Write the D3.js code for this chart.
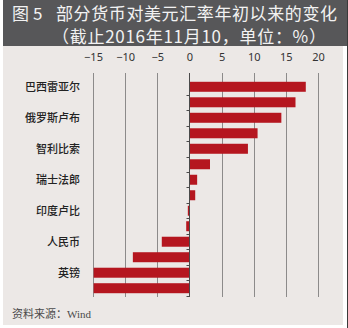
<!DOCTYPE html>
<html>
<head>
<meta charset="utf-8">
<script src="https://cdn.jsdelivr.net/npm/d3@7"></script>
<style>
  body { margin: 0; background: #fff; }
  svg { display: block; }
  .grid { stroke: #8c8a8a; stroke-width: 1; }
  .zero { stroke: #4a4a4a; stroke-width: 1; }
  .title { font-family: "Noto Sans CJK SC", sans-serif; font-size: 17px; fill: #f2f2f2; }
  .tick-label { font-family: "Noto Sans", "Liberation Sans", sans-serif; font-size: 11px; fill: #333; }
  .cat-label { font-family: "Noto Sans CJK SC", sans-serif; font-size: 11px; font-weight: 500; fill: #222; }
</style>
</head>
<body>
<svg id="chart"></svg>
<script>
// bar labels (only every other bar is named in the source)
var labels = ["巴西雷亚尔", "", "俄罗斯卢布", "", "智利比索", "", "瑞士法郎", "",
              "印度卢比", "", "人民币", "", "英镑", ""];
// change vs USD since start of year (%)
var values = [18.1, 16.5, 14.3, 10.6, 9.1, 3.2, 1.2, 0.9, -0.25, -0.5, -4.3, -8.8, -14.9, -14.9];
var tickValues = [-15, -10, -5, 0, 5, 10, 15, 20];
var titleParts = ["图", "5", "部分货币对美元汇率年初以来的变化"];
var subtitle = "（截止2016年11月10，单位：%）";
var source = "资料来源：Wind";

var width = 348, height = 328;

var svg = d3.select('#chart')
    .attr('width', width)
    .attr('height', height);

// page panel + header band
svg.append('rect')
    .attr('x', 3).attr('y', 0)
    .attr('width', 340).attr('height', 325)
    .attr('fill', '#ece8e6');

svg.append('rect')
    .attr('x', 3).attr('y', 0)
    .attr('width', 344).attr('height', 46)
    .attr('fill', '#575759');

svg.append('line')
    .attr('x1', 347.5).attr('y1', 0)
    .attr('x2', 347.5).attr('y2', height)
    .attr('stroke', '#3a3a3a');

// title, first line in three pieces to keep the wide gaps
var titleX = [12, 33, 56];
svg.append('g')
    .selectAll('text')
    .data(titleParts)
    .join('text')
    .attr('class', 'title')
    .attr('x', function (d, i) { return titleX[i]; })
    .attr('y', 20)
    .attr('textLength', function (d, i) { return i === 2 ? 281 : null; })
    .attr('lengthAdjust', 'spacing')
    .text(function (d) { return d; });

svg.append('text')
    .attr('class', 'title')
    .attr('x', 52).attr('y', 43)
    .attr('textLength', 274)
    .attr('lengthAdjust', 'spacing')
    .text(subtitle);

// scales
var x = d3.scaleLinear()
    .domain([-15, 20])
    .range([93, 318]);

var y = d3.scaleBand()
    .domain(d3.range(values.length))
    .range([79, 296])
    .paddingInner(0.355)
    .paddingOuter(0.18);

var gridTop = 73, gridBottom = 297;

// vertical grid lines
svg.append('g')
    .selectAll('line')
    .data(tickValues.filter(function (d) { return d !== 0; }))
    .join('line')
    .attr('class', 'grid')
    .attr('x1', function (d) { return Math.round(x(d)) + 0.5; })
    .attr('x2', function (d) { return Math.round(x(d)) + 0.5; })
    .attr('y1', gridTop)
    .attr('y2', gridBottom);

// top axis labels
var xAxis = d3.axisTop(x)
    .tickValues(tickValues)
    .tickSize(0)
    .tickPadding(0);

var gx = svg.append('g')
    .attr('transform', 'translate(0,' + 61 + ')')
    .call(xAxis);
gx.select('.domain').remove();
gx.selectAll('text')
    .attr('class', 'tick-label')
    .attr('dy', 0)
    .attr('font-family', null)
    .attr('font-size', null);

// bars
svg.append('g')
    .selectAll('rect')
    .data(values)
    .join('rect')
    .attr('x', function (d) { return x(Math.min(0, d)); })
    .attr('y', function (d, i) { return y(i); })
    .attr('width', function (d) { return Math.abs(x(d) - x(0)); })
    .attr('height', y.bandwidth())
    .attr('fill', '#b5161f');

// zero axis with small ticks between bars
var x0 = Math.round(x(0)) + 0.5;
svg.append('line')
    .attr('class', 'zero')
    .attr('x1', x0).attr('x2', x0)
    .attr('y1', gridTop).attr('y2', gridBottom);

svg.append('g')
    .selectAll('line')
    .data(d3.range(1, values.length + 1))
    .join('line')
    .attr('class', 'zero')
    .attr('x1', x0 - 3).attr('x2', x0)
    .attr('y1', function (i) { return Math.round(y(i - 1) + y.step() - y.step() * y.paddingInner() / 2) + 0.5; })
    .attr('y2', function (i) { return Math.round(y(i - 1) + y.step() - y.step() * y.paddingInner() / 2) + 0.5; });

// category labels
svg.append('g')
    .selectAll('text')
    .data(labels)
    .join('text')
    .attr('class', 'cat-label')
    .attr('x', 80)
    .attr('y', function (d, i) { return y(i) + y.bandwidth() / 2; })
    .attr('dy', '0.36em')
    .attr('text-anchor', 'end')
    .text(function (d) { return d; });

// source note
svg.append('text')
    .attr('x', 12).attr('y', 318)
    .attr('font-family', '"Liberation Serif", "Noto Sans CJK SC", serif')
    .attr('font-size', 11)
    .attr('fill', '#4a4a4a')
    .text(source);
</script>
</body>
</html>
